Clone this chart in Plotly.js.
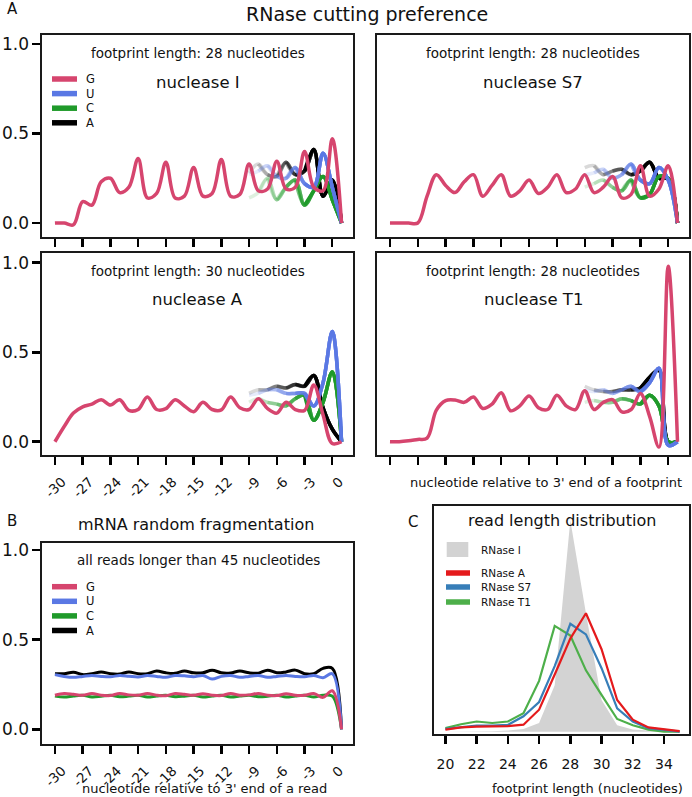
<!DOCTYPE html>
<html>
<head>
<meta charset="utf-8">
<script src="https://cdn.plot.ly/plotly-3.0.1.min.js"></script>
<style>html,body{margin:0;padding:0;background:#fff;}#chart{width:692px;height:797px;}</style>
</head>
<body>
<div id="chart"></div>
<script>
// ---------------- data ----------------
const NT_X = [-30,-29,-28,-27,-26,-25,-24,-23,-22,-21,-20,-19,-18,-17,-16,-15,-14,-13,-12,-11,-10,-9,-8,-7,-6,-5,-4,-3,-2,-1,0,1];
const TAIL_X = [-9,-8,-7,-6,-5,-4,-3,-2,-1,0,1];
const NT_TICKS = [-30,-27,-24,-21,-18,-15,-12,-9,-6,-3,0];
const NT_TICK_TEXT = ['-30','-27','-24','-21','-18','-15','-12','-9','-6','-3','0'];
const Y_TICKS = [0, 0.5, 1.0];
const Y_TICK_TEXT = ['0.0','0.5','1.0'];
const NUC = ['G','U','C','A'];
const NUCLEASES = ['nuclease I','nuclease S7','nuclease A','nuclease T1'];
const FOOTPRINT = [28, 28, 30, 28];

// nuclease I
const G_I  = [0,0,-0.01,0.12,0.10,0.23,0.25,0.17,0.20,0.36,0.14,0.165,0.34,0.14,0.15,0.31,0.15,0.165,0.355,0.15,0.16,0.33,0.18,0.19,0.345,0.19,0.2,0.40,0.2,0.18,0.47,0];
const U_I  = [0.27,0.29,0.32,0.26,0.25,0.31,0.22,0.2,0.39,0.2,0];
const C_I  = [0.14,0.17,0.25,0.13,0.2,0.24,0.1,0.18,0.26,0.13,0];
const A_I  = [0.28,0.33,0.27,0.26,0.34,0.27,0.29,0.41,0.15,0.24,0];
// nuclease S7
const G_S7 = [0,0,0,0,0.15,0.27,0.21,0.17,0.23,0.27,0.15,0.21,0.27,0.15,0.18,0.24,0.165,0.2,0.27,0.17,0.19,0.27,0.17,0.2,0.26,0.14,0.16,0.32,0.15,0.19,0.32,0];
const U_S7 = [0.27,0.28,0.3,0.25,0.27,0.33,0.24,0.22,0.31,0.24,0];
const C_S7 = [0.2,0.22,0.24,0.2,0.18,0.24,0.14,0.16,0.26,0.25,0];
const A_S7 = [0.31,0.32,0.27,0.29,0.3,0.27,0.29,0.34,0.25,0.25,0];
// nuclease A
const G_A  = [0,0.085,0.16,0.195,0.21,0.235,0.205,0.235,0.175,0.18,0.25,0.18,0.185,0.235,0.2,0.168,0.22,0.18,0.178,0.25,0.19,0.18,0.24,0.185,0.16,0.22,0.18,0.175,0.317,0.15,-0.01,0];
const U_A  = [0.26,0.27,0.29,0.29,0.27,0.27,0.27,0.2,0.33,0.615,0];
const C_A  = [0.22,0.24,0.22,0.21,0.2,0.24,0.26,0.12,0.22,0.39,0];
const A_A  = [0.27,0.29,0.29,0.31,0.3,0.32,0.31,0.37,0.19,0.07,0];
// nuclease T1
const G_T1 = [0,0,0.005,0.013,0.02,0.177,0.23,0.233,0.22,0.25,0.186,0.21,0.274,0.173,0.2,0.255,0.19,0.18,0.26,0.2,0.18,0.285,0.18,0.22,0.235,0.167,0.18,0.27,0.14,-0.03,0.98,0];
const U_T1 = [0.29,0.28,0.29,0.27,0.29,0.31,0.28,0.33,0.41,-0.02,0];
const C_T1 = [0.22,0.23,0.22,0.22,0.24,0.23,0.21,0.26,0.2,0.0,0];
const A_T1 = [0.31,0.29,0.28,0.28,0.29,0.29,0.3,0.36,0.4,0.0,0];
// random fragmentation
const G_B = [0.19,0.2,0.195,0.19,0.2,0.19,0.188,0.2,0.192,0.19,0.2,0.19,0.187,0.2,0.195,0.19,0.198,0.19,0.188,0.2,0.19,0.192,0.2,0.19,0.188,0.198,0.19,0.19,0.2,0.178,0.215,0];
const U_B = [0.305,0.295,0.29,0.295,0.3,0.295,0.293,0.3,0.296,0.292,0.3,0.295,0.29,0.3,0.298,0.293,0.3,0.28,0.295,0.3,0.29,0.295,0.3,0.29,0.295,0.3,0.295,0.293,0.3,0.288,0.31,0];
const C_B = [0.185,0.18,0.186,0.19,0.18,0.184,0.19,0.181,0.185,0.19,0.18,0.186,0.19,0.182,0.185,0.19,0.18,0.186,0.19,0.18,0.185,0.19,0.181,0.184,0.19,0.18,0.186,0.19,0.18,0.19,0.185,0];
const A_B = [0.31,0.31,0.318,0.305,0.31,0.32,0.31,0.308,0.32,0.31,0.31,0.325,0.315,0.312,0.325,0.315,0.315,0.33,0.315,0.314,0.325,0.315,0.313,0.33,0.315,0.32,0.33,0.31,0.31,0.34,0.34,0];
// read length distribution
const LEN_X   = [20,21,22,23,24,25,26,27,28,29,30,31,32,33,34,35];
const LEN_TICKS = [20,22,24,26,28,30,32,34];
const RNASE_NAMES = ['RNase I','RNase A','RNase S7','RNase T1'];
const RNASE_I  = [0,0,0,0.002,0.005,0.013,0.041,0.22,1.0,0.56,0.15,0.03,0.01,0.004,0.001,0];
const RNASE_A  = [0.01,0.02,0.024,0.025,0.026,0.033,0.104,0.27,0.44,0.56,0.39,0.15,0.057,0.02,0.01,0.003];
const RNASE_S7 = [0.013,0.022,0.029,0.029,0.032,0.073,0.14,0.31,0.51,0.46,0.3,0.11,0.048,0.017,0.007,0.0];
const RNASE_T1 = [0.017,0.035,0.048,0.041,0.048,0.087,0.24,0.5,0.455,0.29,0.174,0.06,0.03,0.01,0.0,0.0];

// ---------------- styles ----------------
const W = 692, H = 797;
const fx = p => p / W;
const fy = p => 1 - p / H;
const FONT = 'DejaVu Sans, Liberation Sans, Arial, sans-serif';
const NUC_COLOR = {G:'#d6456e', U:'#5a78e4', C:'#1f9a2a', A:'#000000'};
const RN_COLOR = ['#d3d3d3', '#e41a1c', '#377eb8', '#4daf4a'];

const panelSeries = [
  {G:G_I,  U:U_I,  C:C_I,  A:A_I},
  {G:G_S7, U:U_S7, C:C_S7, A:A_S7},
  {G:G_A,  U:U_A,  C:C_A,  A:A_A},
  {G:G_T1, U:U_T1, C:C_T1, A:A_T1}
];
const axisIds = [['x','y'],['x2','y2'],['x3','y3'],['x4','y4']];

const traces = [];
const FADE_OPAC = [0.15, 0.2, 0.25, 0.3, 0.4, 0.6, 1.0];
panelSeries.forEach((ps, pi) => {
  const [xa, ya] = axisIds[pi];
  ['A','C','U'].forEach(n => {
    FADE_OPAC.forEach((op, k) => {
      traces.push({
        x: TAIL_X.slice(k), y: ps[n].slice(k), xaxis: xa, yaxis: ya,
        type: 'scatter', mode: 'lines', opacity: op, hoverinfo: 'skip',
        line: {color: NUC_COLOR[n], width: 3.5, shape: 'spline', smoothing: 1}
      });
    });
  });
  traces.push({
    x: NT_X, y: ps.G, xaxis: xa, yaxis: ya, type: 'scatter', mode: 'lines',
    line: {color: NUC_COLOR.G, width: 3.5, shape: 'spline', smoothing: 1}
  });
});
// panel B
[['A',A_B],['C',C_B],['U',U_B],['G',G_B]].forEach(([n, arr]) => {
  traces.push({x: NT_X, y: arr, xaxis: 'x5', yaxis: 'y5', type: 'scatter', mode: 'lines',
    line: {color: NUC_COLOR[n], width: 3, shape: 'spline', smoothing: 1}});
});
// panel C
traces.push({x: LEN_X, y: RNASE_I, xaxis: 'x6', yaxis: 'y6', type: 'scatter', mode: 'lines',
  fill: 'tozeroy', fillcolor: RN_COLOR[0], line: {width: 0, color: RN_COLOR[0]}});
[RNASE_T1, RNASE_S7, RNASE_A].forEach((arr, i) => {
  const ci = 3 - i;
  traces.push({x: LEN_X, y: arr, xaxis: 'x6', yaxis: 'y6', type: 'scatter', mode: 'lines',
    line: {color: RN_COLOR[ci], width: 2.2}});
});

// ---------------- axes ----------------
const frame = {showline: true, mirror: true, linecolor: '#1a1a1a', linewidth: 1.6, showgrid: false, zeroline: false, fixedrange: true};
function ntX(domain, anchor, labels) {
  return Object.assign({}, frame, {domain, anchor, range: [-31.4, 2.24], tickmode: 'array',
    tickvals: NT_TICKS, ticktext: NT_TICK_TEXT, ticks: 'outside', ticklen: 8, tickwidth: 2.4, tickcolor: '#000',
    showticklabels: labels, tickangle: -45, ticklabelshift: 7, ticklabelstandoff: 4,
    tickfont: {family: FONT, size: 13.5, color: '#111'}});
}
function ntY(domain, anchor, range, labels) {
  return Object.assign({}, frame, {domain, anchor, range, tickmode: 'array',
    tickvals: labels ? Y_TICKS : [], ticktext: Y_TICK_TEXT, ticks: labels ? 'outside' : '', ticklen: 8, tickwidth: 2.6, tickcolor: '#000',
    showticklabels: labels, ticklabelstandoff: 0, tickfont: {family: FONT, size: 17, color: '#111'}});
}
const RA = [-0.078, 1.05], RB = [-0.074, 1.054];

const layout = {
  width: W, height: H, margin: {l:0, r:0, t:0, b:0},
  paper_bgcolor: '#fff', plot_bgcolor: '#fff', showlegend: false,
  font: {family: FONT, color: '#111'},
  xaxis:  ntX([fx(42), fx(353)], 'y', false),
  yaxis:  ntY([fy(237), fy(35)], 'x', RA, true),
  xaxis2: ntX([fx(377), fx(689)], 'y2', false),
  yaxis2: ntY([fy(237), fy(35)], 'x2', RA, false),
  xaxis3: ntX([fx(42), fx(353)], 'y3', true),
  yaxis3: ntY([fy(455), fy(253)], 'x3', RB, true),
  xaxis4: ntX([fx(377), fx(689)], 'y4', false),
  yaxis4: ntY([fy(455), fy(253)], 'x4', RB, false),
  xaxis5: ntX([fx(42), fx(353)], 'y5', true),
  yaxis5: ntY([fy(744), fy(543)], 'x5', [-0.082, 1.039], true),
  xaxis6: Object.assign({}, frame, {domain: [fx(434), fx(689)], anchor: 'y6', range: [19.27, 35.6], tickmode: 'array',
    tickvals: LEN_TICKS, ticks: 'outside', ticklen: 8, tickwidth: 2.4, tickcolor: '#000', ticklabelstandoff: 9,
    tickfont: {family: FONT, size: 14, color: '#111'}}),
  yaxis6: Object.assign({}, frame, {domain: [fy(734), fy(506)], anchor: 'x6', range: [-0.011, 1.067], showticklabels: false, ticks: ''}),
  annotations: [],
  shapes: []
};

function ann(text, x, y, size, extra) {
  layout.annotations.push(Object.assign({text, x: fx(x), y: fy(y), xref: 'paper', yref: 'paper',
    showarrow: false, xanchor: 'center', yanchor: 'middle', font: {family: FONT, size, color: '#111'}}, extra || {}));
}
ann('A', 12.5, 9, 15);
ann('RNase cutting preference', 367, 14, 19);
const centers = [[197.5, 35], [533, 35], [197.5, 253], [533, 253]];
centers.forEach(([cx, top], i) => {
  ann('footprint length: ' + FOOTPRINT[i] + ' nucleotides', cx, top + 18, 13.5);
  ann(NUCLEASES[i], cx, top + 47, 16.5);
});
ann("nucleotide relative to 3' end of a footprint", 546, 482, 13);
ann('B', 12, 521, 15);
ann('mRNA random fragmentation', 195.5, 524, 16);
ann('all reads longer than 45 nucleotides', 198.7, 560, 13.5);
ann("nucleotide relative to 3' end of a read", 204.5, 788, 13);
ann('C', 413, 522, 15);
ann('read length distribution', 562, 520, 16);
ann('footprint length (nucleotides)', 587, 788, 13);

// nucleotide legends (panels A and B)
function nucLegend(y0) {
  NUC.forEach((n, i) => {
    const y = y0 + i * 14.6;
    layout.shapes.push({type: 'line', xref: 'paper', yref: 'paper', x0: fx(52), x1: fx(77), y0: fy(y), y1: fy(y),
      line: {color: NUC_COLOR[n], width: 5.5}});
    ann(n, 84, y, 11.5, {xanchor: 'left'});
  });
}
nucLegend(79);
nucLegend(586.7);

// read-length legend
layout.shapes.push({type: 'rect', xref: 'paper', yref: 'paper', x0: fx(446.7), x1: fx(468.3), y0: fy(557), y1: fy(542),
  fillcolor: RN_COLOR[0], line: {width: 0}});
ann(RNASE_NAMES[0], 479, 549.5, 10.5, {xanchor: 'left'});
[573, 587, 602].forEach((y, i) => {
  layout.shapes.push({type: 'line', xref: 'paper', yref: 'paper', x0: fx(446), x1: fx(470), y0: fy(y), y1: fy(y),
    line: {color: RN_COLOR[i + 1], width: 5.5}});
  ann(RNASE_NAMES[i + 1], 479, y, 10.5, {xanchor: 'left'});
});

Plotly.newPlot('chart', traces, layout, {staticPlot: true, displayModeBar: false});
</script>
</body>
</html>
